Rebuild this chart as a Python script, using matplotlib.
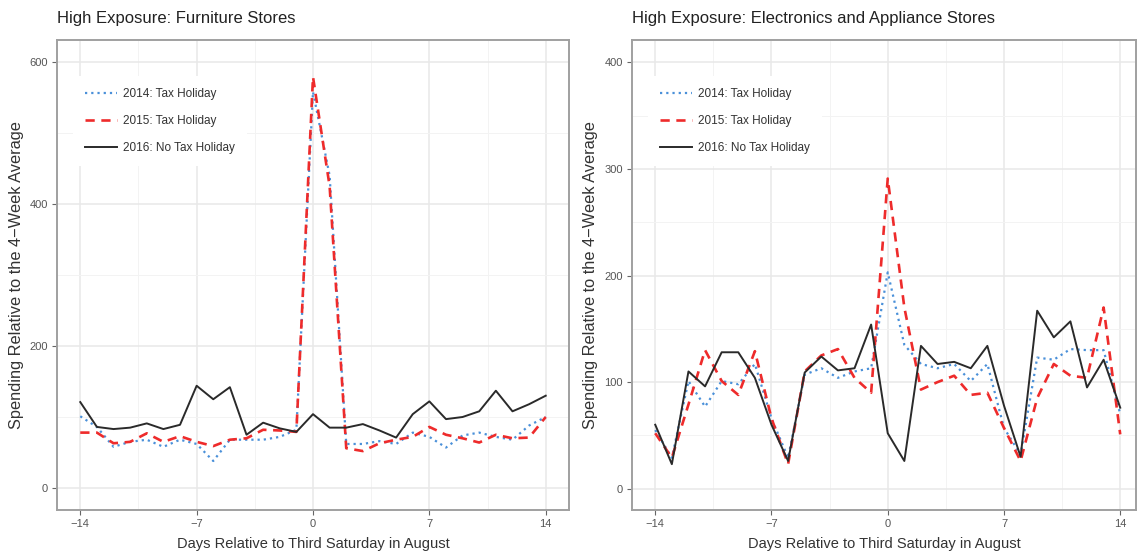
import numpy as np
import matplotlib
matplotlib.use("Agg")
import matplotlib.pyplot as plt
from matplotlib.ticker import MultipleLocator

plt.rcParams['font.family'] = ['Liberation Sans', 'DejaVu Sans']

days = list(range(-14, 15))
labels = ["2014: Tax Holiday", "2015: Tax Holiday", "2016: No Tax Holiday"]

# furniture stores
furn_2014 = [101, 86, 58, 65, 68, 58, 68, 62, 38, 68, 68, 68, 72, 82, 558, 440,
             62, 62, 66, 62, 78, 72, 57, 74, 78, 72, 68, 88, 100]
furn_2015 = [78, 78, 63, 65, 77, 65, 73, 65, 59, 68, 70, 82, 81, 79, 579, 425,
             56, 52, 63, 68, 72, 86, 75, 70, 64, 75, 70, 71, 100]
furn_2016 = [121, 86, 83, 85, 91, 83, 89, 144, 125, 142, 75, 92, 84, 79, 104, 85,
             85, 90, 81, 71, 104, 122, 97, 100, 108, 137, 108, 118, 130]

# electronics and appliance stores
elec_2014 = [55, 29, 101, 77, 101, 98, 117, 66, 29, 107, 113, 104, 110, 113, 203, 135,
             117, 113, 117, 101, 117, 57, 32, 123, 121, 131, 130, 130, 70]
elec_2015 = [52, 29, 79, 130, 101, 88, 129, 66, 23, 110, 125, 131, 104, 90, 291, 170,
             93, 100, 106, 88, 90, 57, 26, 85, 117, 106, 104, 170, 51]
elec_2016 = [60, 23, 110, 96, 128, 128, 104, 60, 26, 109, 124, 111, 113, 154, 52, 26,
             134, 117, 119, 113, 134, 78, 30, 167, 142, 157, 95, 121, 76]

colors = ['#4a90d9', '#ee2b2b', '#2a2a2a']
styles = [(0, (1, 1.8)), (0, (3.5, 2.5)), '-']
widths = [1.6, 1.9, 1.4]

fig = plt.figure(figsize=(11.38, 5.54), dpi=100)
ax1 = fig.add_axes([57/1138, 1-510/554, 512/1138, 470/554])
ax2 = fig.add_axes([632/1138, 1-510/554, 504/1138, 470/554])

panels = [
    (ax1, "High Exposure: Furniture Stores", [furn_2014, furn_2015, furn_2016],
     (-15.4, 15.4), (-31, 631), 200, -0.064),
    (ax2, "High Exposure: Electronics and Appliance Stores", [elec_2014, elec_2015, elec_2016],
     (-15.4, 14.95), (-20, 421), 100, -0.067),
]

for ax, title, series, xl, yl, step, ylab_x in panels:
    for vals, c, ls, lw, lab in zip(series, colors, styles, widths, labels):
        ax.plot(days, vals, color=c, linestyle=ls, linewidth=lw, label=lab)
    ax.set_xlim(*xl)
    ax.set_ylim(*yl)
    ax.set_xticks([-14, -7, 0, 7, 14])
    ax.xaxis.set_minor_locator(MultipleLocator(3.5))
    ax.yaxis.set_major_locator(MultipleLocator(step))
    ax.yaxis.set_minor_locator(MultipleLocator(step / 2))
    ax.grid(which='major', color='#e8e8e8', linewidth=1.1)
    ax.grid(which='minor', color='#f3f3f3', linewidth=0.7)
    ax.set_axisbelow(True)
    for sp in ax.spines.values():
        sp.set_color('#a0a0a0')
        sp.set_linewidth(1.4)
    ax.tick_params(which='major', length=3.5, width=0.8, color='#666666',
                   labelsize=8, labelcolor='#555555', pad=3)
    ax.tick_params(which='minor', length=0)
    ax.set_title(title, loc='left', fontsize=12, color='#222222', pad=12)
    ax.set_xlabel("Days Relative to Third Saturday in August", fontsize=10.5,
                  color='#333333')
    ax.xaxis.set_label_coords(0.5, -0.057)
    ax.set_ylabel("Spending Relative to the 4\u2212Week Average", fontsize=11.8,
                  color='#333333')
    ax.yaxis.set_label_coords(ylab_x, 0.5)
    leg = ax.legend(loc='upper left', bbox_to_anchor=(0.02, 0.935), fontsize=8.5,
                    frameon=True, facecolor='white', edgecolor='none', framealpha=1,
                    handlelength=2.7, handletextpad=0.55, labelspacing=1.28,
                    borderpad=1.0)
    for t in leg.get_texts():
        t.set_color('#333333')

fig.savefig("out.png", dpi=100)
